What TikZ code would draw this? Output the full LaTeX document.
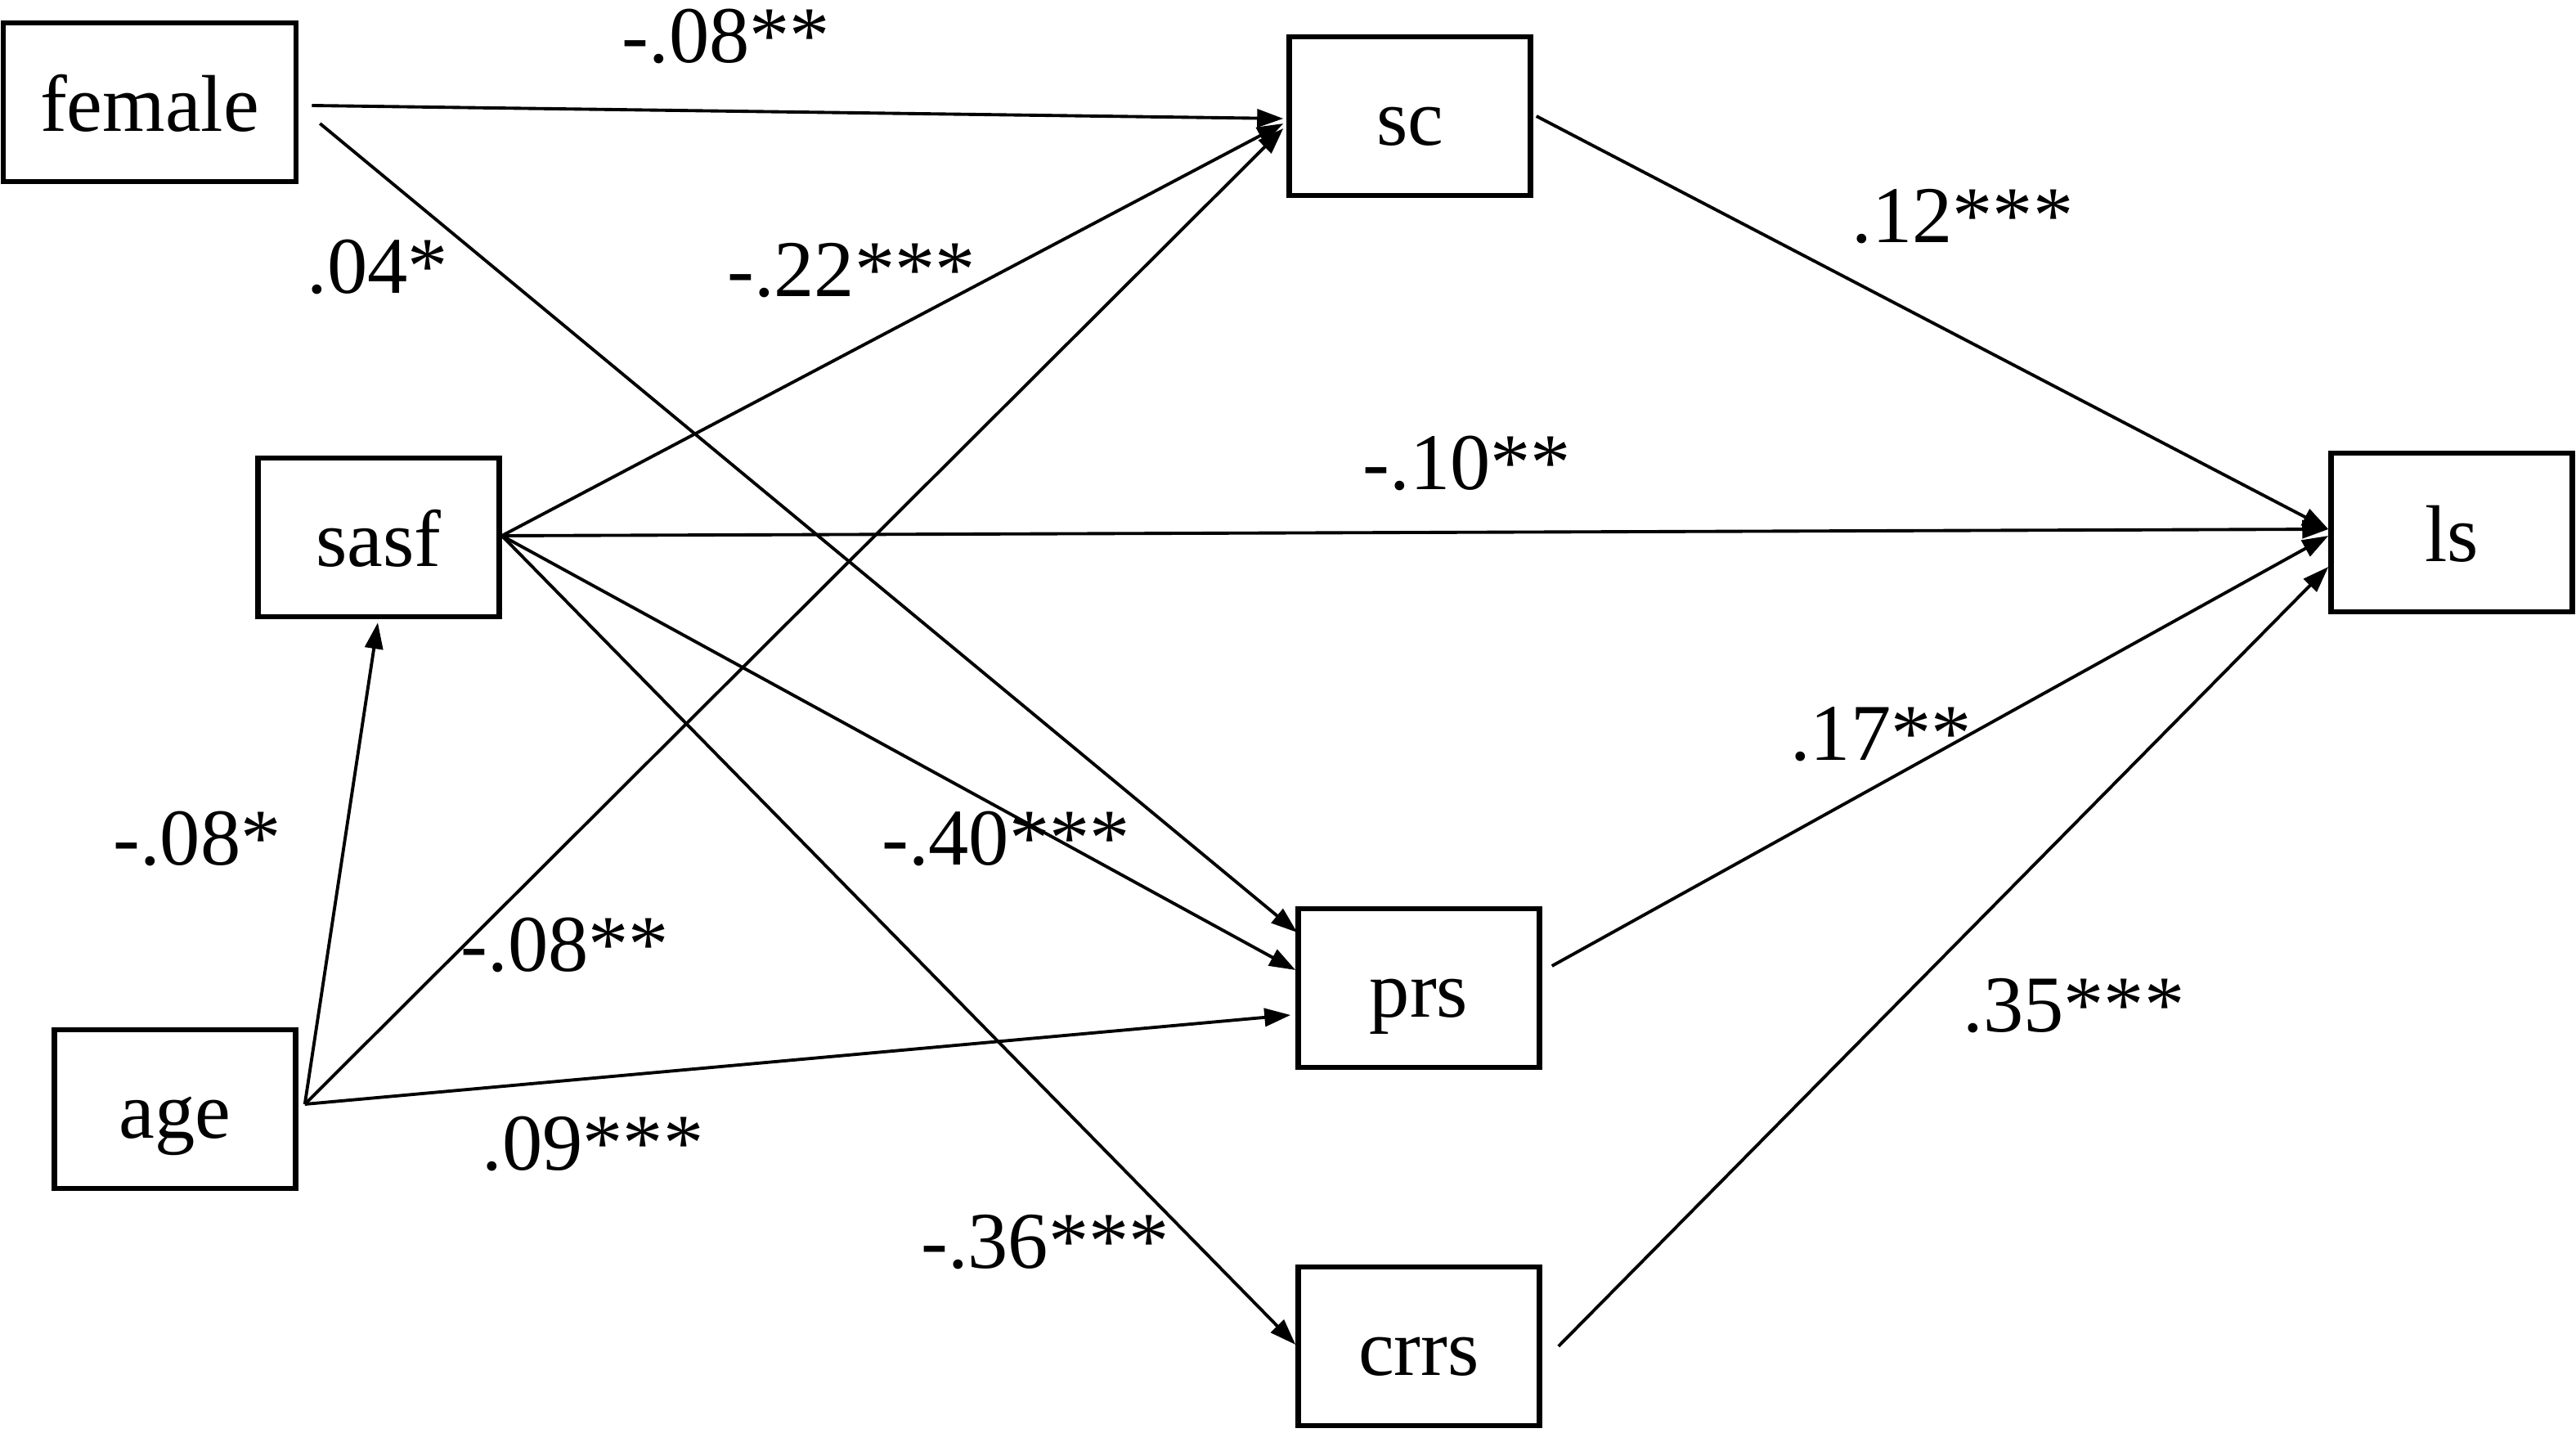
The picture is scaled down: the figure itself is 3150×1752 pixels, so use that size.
\documentclass[tikz,border=0pt]{standalone}
\usepackage{fontspec}
\setmainfont{Liberation Serif}
\usetikzlibrary{arrows.meta,calc}
\begin{document}
\begin{tikzpicture}[x=0.01cm,y=-0.01cm,
  var/.style={draw,line width=1.8pt,minimum width=2.95cm,minimum height=1.94cm,inner sep=0pt,text height=20pt,text depth=0pt,font=\fontsize{28}{34}\selectfont},
  coef/.style={inner sep=0pt,font=\fontsize{28}{34}\selectfont},
  path/.style={line width=1.1pt,-{Triangle[length=0.32cm,width=0.22cm]}}]
\useasboundingbox (0,0) rectangle (3150,1752);
% variables
\node[var,minimum width=3.58cm] (female) at (183,125) {female};
\node[var] (sc) at (1724,142) {sc};
\node[var] (sasf) at (463,657) {sasf};
\node[var] (ls) at (2998,651) {ls};
\node[var] (prs) at (1735,1208) {prs};
\node[var] (crrs) at (1735,1646) {crrs};
\node[var] (age) at (214,1356) {age};
% paths
\draw[path] ($(female.east)+(16,4)$) -- ($(sc.west)+(-4,3)$);
\draw[path] ($(female.east)+(26,26)$) -- ($(prs.west)+(2,-68)$);
\draw[path] ($(sasf.east)+(0,-2)$) -- ($(sc.west)+(-4,9)$);
\draw[path] ($(sasf.east)+(0,-2)$) -- ($(ls.west)+(0,-4)$);
\draw[path] ($(sasf.east)+(0,-2)$) -- ($(prs.west)+(0,-22)$);
\draw[path] ($(sasf.east)+(0,-2)$) -- ($(crrs.west)+(0,-2)$);
\draw[path] ($(age.east)+(8,-6)$) -- ($(sasf.south)+(-1,4)$);
\draw[path] ($(age.east)+(8,-6)$) -- ($(sc.west)+(-4,15)$);
\draw[path] ($(age.east)+(8,-6)$) -- ($(prs.west)+(-6,33)$);
\draw[path] ($(sc.east)+(4,0)$) -- ($(ls.west)+(0,-4)$);
\draw[path] ($(prs.east)+(12,-27)$) -- ($(ls.west)+(0,4)$);
\draw[path] ($(crrs.east)+(20,0)$) -- ($(ls.west)+(0,42)$);
% coefficients
\node[coef] (c1) at (888,44) {-.08**};
\node[coef] (c2) at (462,326) {.04*};
\node[coef] (c3) at (1041,331) {-.22***};
\node[coef] (c4) at (2400,265) {.12***};
\node[coef] (c5) at (1794,566) {-.10**};
\node[coef] (c6) at (2300,898) {.17**};
\node[coef] (c7) at (1230,1025) {-.40***};
\node[coef] (c8) at (241,1025) {-.08*};
\node[coef] (c9) at (691,1155) {-.08**};
\node[coef] (c10) at (2536,1230) {.35***};
\node[coef] (c11) at (725,1398) {.09***};
\node[coef] (c12) at (1278,1519) {-.36***};
\end{tikzpicture}
\end{document}
